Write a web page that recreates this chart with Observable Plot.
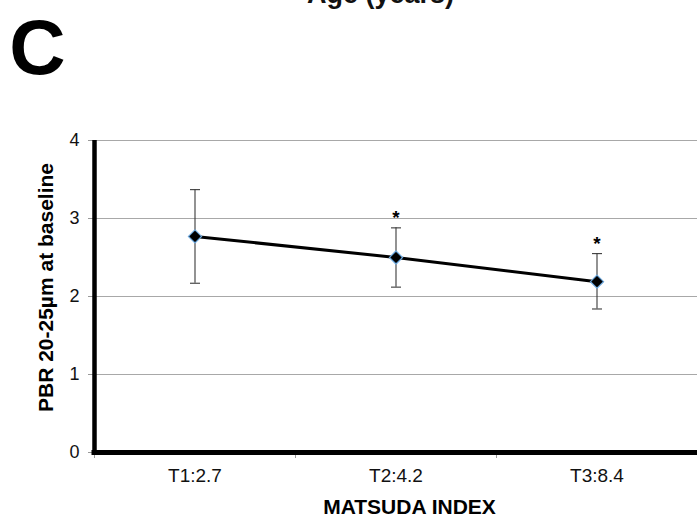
<!DOCTYPE html>
<html>
<head>
<meta charset="utf-8">
<script src="https://cdn.jsdelivr.net/npm/d3@7"></script>
<script src="https://cdn.jsdelivr.net/npm/@observablehq/plot@0.6"></script>
<style>
  html, body { margin: 0; padding: 0; background: #fff; }
  #chart svg { display: block; }
</style>
</head>
<body>
<div id="chart"></div>
<script>
// ---- Data ----
const categories = ["T1:2.7", "T2:4.2", "T3:8.4"];
const means = [2.77, 2.50, 2.19];
const lower = [2.17, 2.12, 1.84];
const upper = [3.37, 2.88, 2.55];
const significant = [false, true, true];
const yTicks = [0, 1, 2, 3, 4];
const gridTicks = [1, 2, 3, 4];
const panelLetter = "C";
const topTitle = "Age (years)";
const yLabel = "PBR 20-25µm at baseline";
const xLabel = "MATSUDA INDEX";

const data = categories.map((c, i) => ({
  category: c, pos: i + 0.5, mean: means[i], lo: lower[i], hi: upper[i], sig: significant[i]
}));
const labelPositions = categories.map((c, i) => i + 0.5);
const boundaryTicks = categories.map((c, i) => i);

const capSymbol = {
  draw(ctx) { ctx.moveTo(-5, 0); ctx.lineTo(5, 0); }
};

const chart = Plot.plot({
  width: 697,
  height: 518,
  marginTop: 140,
  marginBottom: 66,
  marginLeft: 94,
  marginRight: 0,
  style: { fontFamily: "'Liberation Sans', Arial, sans-serif", color: "#111", background: "#fff" },
  x: { domain: [0, categories.length], axis: null },
  y: { domain: [0, 4], axis: null },
  marks: [
    Plot.gridY({ ticks: gridTicks, stroke: "#a8a8a8", strokeOpacity: 1, strokeWidth: 1 }),
    Plot.axisY({ ticks: yTicks, tickSize: 6, tickPadding: 9, stroke: "#999", fontSize: 18,
                 tickFormat: d3.format("d"), label: null }),
    Plot.axisX({ ticks: boundaryTicks, tickSize: 6, tickFormat: () => "", stroke: "#999", label: null }),
    Plot.axisX({ ticks: labelPositions, tickSize: 0, tickPadding: 16, fontSize: 19,
                 tickFormat: d => categories[Math.floor(d)], label: null }),
    Plot.ruleX([0], { stroke: "#000", strokeWidth: 4.5 }),
    Plot.ruleY([0], { stroke: "#000", strokeWidth: 5, strokeLinecap: "square" }),
    // error bars
    Plot.ruleX(data, { x: "pos", y1: "lo", y2: "hi", stroke: "#3a3a3a", strokeWidth: 1.1 }),
    Plot.dot(data, { x: "pos", y: "hi", symbol: capSymbol, fill: "none", stroke: "#3a3a3a", strokeWidth: 1.1 }),
    Plot.dot(data, { x: "pos", y: "lo", symbol: capSymbol, fill: "none", stroke: "#3a3a3a", strokeWidth: 1.1 }),
    // mean line
    Plot.line(data, { x: "pos", y: "mean", stroke: "#000", strokeWidth: 3 }),
    Plot.dot(data, { x: "pos", y: "mean", symbol: "diamond2", r: 5.9, fill: "#000", stroke: "#6aa6dc", strokeWidth: 1.2 }),
    // significance asterisks
    Plot.text(data.filter(d => d.sig), { x: "pos", y: "hi", text: () => "*", lineAnchor: "bottom", dy: -4,
      fontSize: 19, fontWeight: "bold", fill: "#000" }),
    // axis titles
    Plot.text([yLabel], { frameAnchor: "left", textAnchor: "middle", lineAnchor: "middle", dx: -48, dy: -9, rotate: -90,
      fontSize: 21, fontWeight: "bold", fill: "#000" }),
    Plot.text([xLabel], { frameAnchor: "bottom", textAnchor: "middle", dx: 13.5, dy: 61, lineAnchor: "bottom",
      fontSize: 21, fontWeight: "bold", fill: "#000" }),
    // panel letter and cropped title above
    Plot.text([panelLetter], { frameAnchor: "top-left", dx: -57, dy: -67, textAnchor: "middle", lineAnchor: "bottom",
      fontSize: 78, fontWeight: "bold", fill: "#000" }),
    Plot.text([topTitle], { frameAnchor: "top-left", dx: 286, dy: -138, textAnchor: "middle", lineAnchor: "bottom",
      fontSize: 27, fontWeight: "bold", fill: "#111" })
  ]
});
document.getElementById("chart").appendChild(chart);
</script>
</body>
</html>
